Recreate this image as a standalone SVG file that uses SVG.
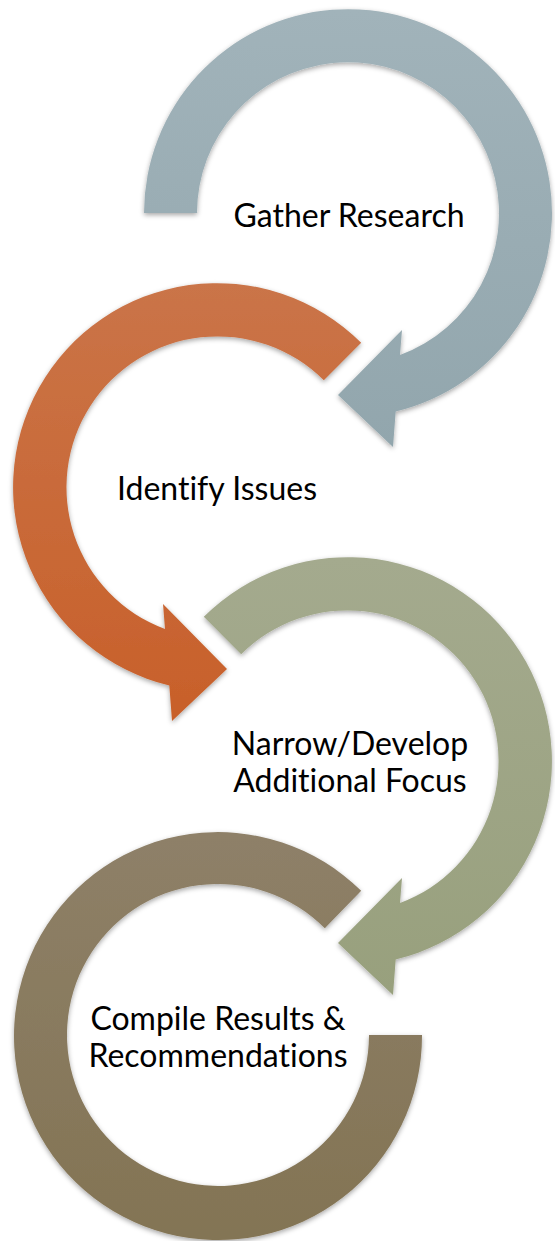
<svg xmlns="http://www.w3.org/2000/svg" width="555" height="1241" viewBox="0 0 555 1241">
<defs>
<linearGradient id="gBlue" x1="0" y1="0" x2="0" y2="1"><stop offset="0" stop-color="#a1b3ba"/><stop offset="1" stop-color="#92a6ad"/></linearGradient>
<linearGradient id="gOrange" x1="0" y1="0" x2="0" y2="1"><stop offset="0" stop-color="#ca7448"/><stop offset="1" stop-color="#c8602a"/></linearGradient>
<linearGradient id="gGreen" x1="0" y1="0" x2="0" y2="1"><stop offset="0" stop-color="#a4aa8e"/><stop offset="1" stop-color="#98a07d"/></linearGradient>
<linearGradient id="gBrown" x1="0" y1="0" x2="0" y2="1"><stop offset="0" stop-color="#8e8068"/><stop offset="1" stop-color="#837454"/></linearGradient>
<filter id="sh" x="-10%" y="-10%" width="120%" height="120%"><feDropShadow dx="0" dy="2" stdDeviation="2.5" flood-color="#000" flood-opacity="0.35"/></filter>
</defs>
<style>
.lbl{font-family:Lato,"Liberation Sans",sans-serif;font-size:32px;fill:#000;text-anchor:middle;font-variant-ligatures:none;font-feature-settings:"liga" 0}
.arr{filter:url(#sh)}
</style>
<g id="connectors"></g>
<g id="node-brown">
<path class="arr" fill="url(#gBrown)" d="M361.2,890.8 A204,204 0 1 0 422,1035 L369,1035 A151,151 0 1 1 324.8,928.2 Z"/>
<text class="lbl" x="218" y="1030">Compile Results &amp;</text>
<text class="lbl" x="218" y="1067">Recommendations</text>
</g>
<g id="node-green">
<path class="arr" fill="url(#gGreen)" d="M203.8,616.8 A204,204 0 1 1 395.7,959.5 L393,995 L338,943 L402,878 L400,903 A151,151 0 1 0 241.2,654.2 Z"/>
<text class="lbl" x="350" y="755">Narrow/Develop</text>
<text class="lbl" x="350" y="792">Additional Focus</text>
</g>
<g id="node-orange">
<path class="arr" fill="url(#gOrange)" d="M361.2,342.8 A204,204 0 1 0 169.3,685.5 L172,721 L227,669 L163,604 L165,629 A151,151 0 1 1 323.8,380.2 Z"/>
<text class="lbl" x="217" y="500">Identify Issues</text>
</g>
<g id="node-blue">
<path class="arr" fill="url(#gBlue)" d="M144,213 A204,204 0 1 1 395.7,411.5 L393,447 L338,395 L402,330 L400,355 A151,151 0 1 0 197,213 Z"/>
<text class="lbl" x="349" y="227">Gather Research</text>
</g>
</svg>
